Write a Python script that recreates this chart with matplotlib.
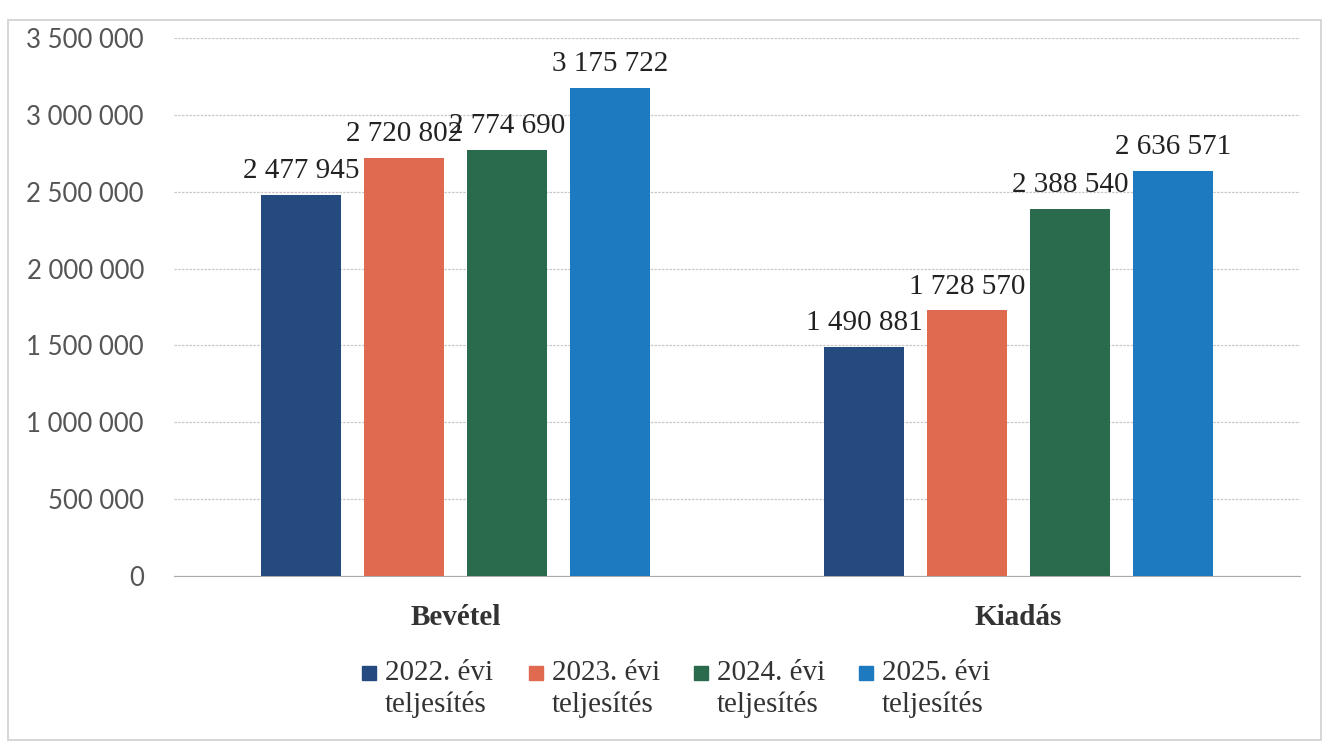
import numpy as np
import matplotlib
matplotlib.use('Agg')
import matplotlib.pyplot as plt
from matplotlib.patches import Rectangle

# adatok
kategoriak = ['Bevétel', 'Kiadás']
sorozatok = ['2022. évi\nteljesítés', '2023. évi\nteljesítés',
             '2024. évi\nteljesítés', '2025. évi\nteljesítés']
ertekek_2022 = [2477945, 1490881]
ertekek_2023 = [2720802, 1728570]
ertekek_2024 = [2774690, 2388540]
ertekek_2025 = [3175722, 2636571]
y_tickek = [0, 500000, 1000000, 1500000, 2000000, 2500000, 3000000, 3500000]

szinek = ['#254A7F', '#E06A4F', '#2A6B4E', '#1E7AC0']


def fmt(v):
    return f'{v:,}'.replace(',', ' ')


fig = plt.figure(figsize=(13.32, 7.46), dpi=100)
ax = fig.add_axes([0.131, 0.228, 0.845, 0.721])

x = np.arange(len(kategoriak))
szel = 0.142
lep = 0.183
adatok = [ertekek_2022, ertekek_2023, ertekek_2024, ertekek_2025]
for i, (vals, nev, c) in enumerate(zip(adatok, sorozatok, szinek)):
    pos = x + (i - 1.5) * lep
    bars = ax.bar(pos, vals, width=szel, color=c, label=nev, zorder=3)
    for b, v in zip(bars, vals):
        ax.text(b.get_x() + b.get_width() / 2, v + 70000, fmt(v),
                ha='center', va='bottom', fontsize=21,
                family='Liberation Serif', color='#222222', zorder=4)

ax.set_xlim(-0.5, 1.5)
ax.set_ylim(0, 3500000)
ax.set_yticks(y_tickek)
ax.set_yticklabels([fmt(t) for t in y_tickek], family='Lato', fontsize=18.5,
                   color='#555555')
ax.set_xticks(x)
ax.set_xticklabels(kategoriak, family='Liberation Serif', fontsize=21,
                   fontweight='bold', color='#333333')
ax.tick_params(axis='both', length=0)
ax.tick_params(axis='y', pad=22)
ax.tick_params(axis='x', pad=20)

ax.grid(axis='y', color='#C8C8C8', linewidth=0.9, linestyle=(0, (2, 1)), zorder=0)
for s in ['top', 'right', 'left']:
    ax.spines[s].set_visible(False)
ax.spines['bottom'].set_color('#AAAAAA')

# jelmagyarázat kézzel: kis négyzet + kétsoros felirat
W, H = 1332, 746
neg_x = [362, 529, 694, 859]
for nx, nev, c in zip(neg_x, sorozatok, szinek):
    fig.patches.append(Rectangle((nx / W, 1 - 680 / H), 14 / W, 14 / H,
                                 transform=fig.transFigure, color=c))
    fig.text((nx + 23) / W, 1 - 660 / H, nev, ha='left', va='top',
             family='Liberation Serif', fontsize=21, color='#333333',
             linespacing=1.25)

# keret a diagram körül
fig.patches.append(Rectangle((0.006, 0.008), 0.986, 0.965, transform=fig.transFigure,
                             fill=False, edgecolor='#D0D0D0', linewidth=1.2))

fig.savefig('out.png', dpi=100)
